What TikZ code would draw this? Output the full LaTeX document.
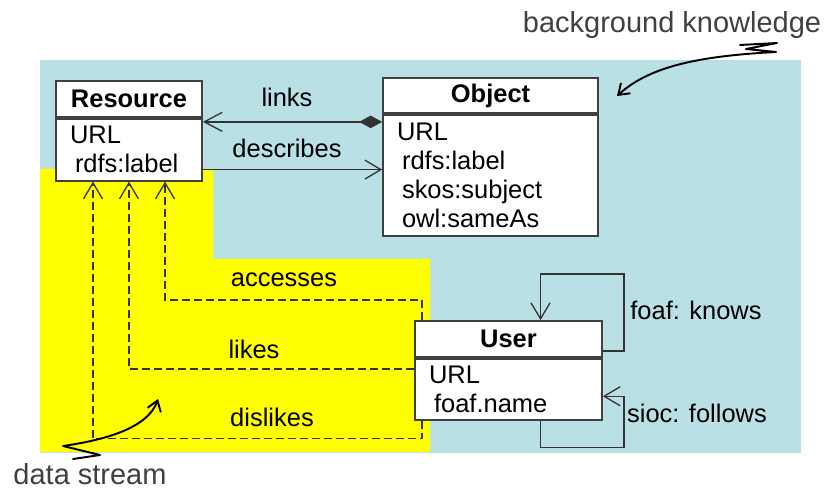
\documentclass[tikz,border=0pt]{standalone}
\usepackage{fontspec}
\setmainfont{Liberation Sans}
\usetikzlibrary{arrows.meta,positioning,calc}

\definecolor{bgblue}{RGB}{185,224,228}
\definecolor{streamyellow}{RGB}{255,255,0}
\definecolor{notegray}{RGB}{64,64,64}

\newcommand{\boxfont}{\fontsize{14.5}{16.5}\selectfont}
\newcommand{\notefont}{\fontsize{16.5}{19}\selectfont}
\newcommand{\attrline}[1]{\hspace*{0.1cm}#1}

\begin{document}
\begin{tikzpicture}[
  x={(0.02cm,0cm)},
  y={(0cm,-0.02cm)},
  cls head/.style={draw=black!75, line width=1pt, fill=white,
    font=\boxfont\bfseries, minimum height=0.72cm, inner sep=0pt},
  cls attr/.style={draw=black!75, line width=1pt, fill=white,
    font=\boxfont, align=left, inner xsep=0.28cm, inner ysep=0pt},
  lbl/.style={font=\boxfont, inner sep=1pt},
  note/.style={font=\notefont, text=notegray, inner sep=0pt},
  barb/.style={-{Straight Barb[length=0.32cm,width=0.38cm]}},
  assoc/.style={draw=black!80, line width=0.75pt},
  usage/.style={assoc, dash pattern=on 0.16cm off 0.08cm},
  squiggle/.style={line width=1.1pt, line join=round, line cap=round,
    -{Straight Barb[length=0.2cm,width=0.28cm]}}]
\useasboundingbox (0,0) rectangle (828,489);
% background knowledge and data stream areas
\fill[bgblue] (40,60) rectangle (801,453);
\fill[streamyellow] (40,169) -| (213,259) -| (430,452) -- (40,452) -- cycle;
% classes
\node[cls head, minimum width=2.92cm] (resource) at (129,99) {Resource};
\node[cls attr, below=0pt of resource, text width=2.36cm, minimum height=1.24cm]
  (resource-attr) {URL\\\attrline{rdfs:label}};
\node[cls head, minimum width=4.3cm, minimum height=0.7cm] (object) at (490.5,95.5) {Object};
\node[cls attr, below=0pt of object, text width=3.74cm, minimum height=2.42cm]
  (object-attr) {URL\\\attrline{rdfs:label}\\\attrline{skos:subject}\\\attrline{owl:sameAs}};
\node[cls head, minimum width=3.74cm] (user) at (508.5,339) {User};
\node[cls attr, below=0pt of user, text width=3.18cm, minimum height=1.22cm]
  (user-attr) {URL\\\attrline{foaf.name}};
% Object -- Resource
\coordinate (links-from) at ($(object-attr.north west)+(0,8)$);
\draw[assoc, {Diamond[length=0.46cm,width=0.25cm]}-{Straight Barb[length=0.36cm,width=0.38cm]}]
  (links-from) -- (resource-attr.east |- links-from);
\coordinate (describes-from) at ($(resource-attr.south east)+(0,-12)$);
\draw[assoc, barb] (describes-from) -- (object-attr.west |- describes-from);
\node[lbl] (links-lbl) at (287,97) {links};
\node[lbl] (describes-lbl) at (287,148) {describes};
% User -- Resource (stream)
\draw[usage, barb] ($(user.north west)+(8,0)$) -- ++(0,-20) -| ($(resource-attr.south)+(36,0)$);
\draw[usage, barb] ($(user-attr.north west)+(0,11)$) -| (resource-attr.south);
\draw[usage, barb] ($(user-attr.south west)+(8,0)$) -- ++(0,18) -| ($(resource-attr.south)+(-36,0)$);
\node[lbl] (accesses-lbl) at (284,280) {accesses};
\node[lbl] (likes-lbl) at (254,349) {likes};
\node[lbl] (dislikes-lbl) at (272,417) {dislikes};
% User self loops
\draw[assoc, barb] ($(user.south east)+(0,-7)$) -- ++(21,0) |- ($(user.north)+(32,-46)$)
  -- ($(user.north)+(32,0)$);
\draw[assoc, barb] ($(user-attr.south)+(32,0)$) -- ++(0,27) -| ($(user-attr.east)+(21,7)$)
  -- ($(user-attr.east)+(0,7)$);
\node[lbl] (knows-lbl) at (696,310) {foaf: knows};
\node[lbl] (follows-lbl) at (697,413) {sioc: follows};
% annotations
\node[note, anchor=base] (bg-note) at (672,33) {background knowledge};
\coordinate (bg-tip) at (617,96);
\draw[squiggle] (740,45) -- (777,43) -- (746,49) -- (776,52)
  .. controls (700,56) and (650,66) .. (bg-tip);
\node[note, anchor=base] (stream-note) at (90,484) {data stream};
\coordinate (stream-tip) at (158,399);
\draw[squiggle] (73,459) -- (100,455) -- (63,446)
  .. controls (105,440) and (148,428) .. (stream-tip);
\end{tikzpicture}
\end{document}
